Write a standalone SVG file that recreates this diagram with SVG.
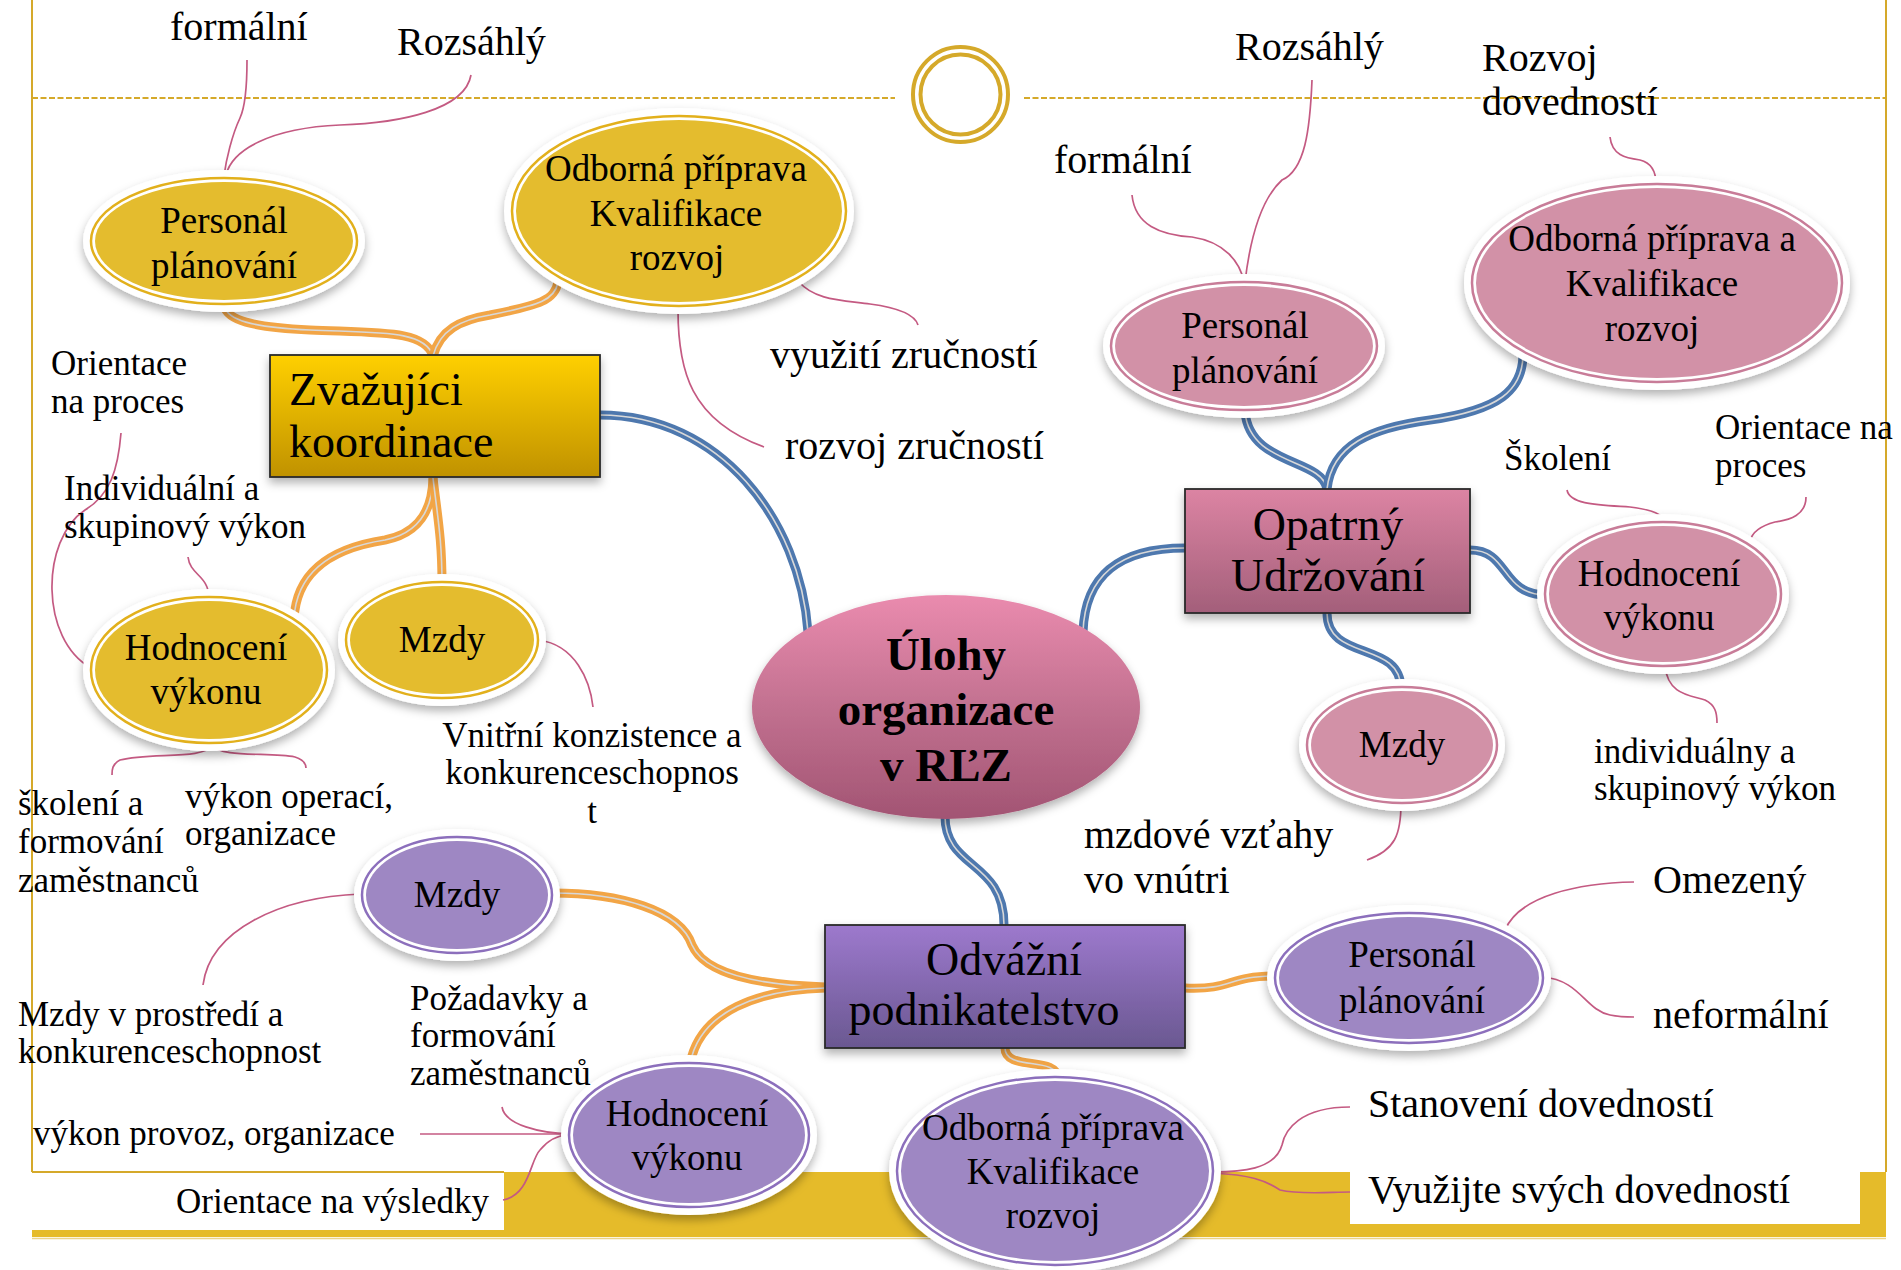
<svg xmlns="http://www.w3.org/2000/svg" width="1901" height="1270" viewBox="0 0 1901 1270">
<defs>
<style>
text{font-family:"Liberation Serif","Times New Roman",serif;fill:#000}
.lb{font-size:40px}
.ls{font-size:35px}
.nt{font-size:37px;text-anchor:middle}
.bt{font-size:46px}
.ct{font-size:47px;font-weight:bold;text-anchor:middle}
.mid{text-anchor:middle}
.thin{fill:none;stroke:#C45A82;stroke-width:1.7}
.blue{fill:none;stroke:#4E78AE;stroke-width:9}
.orange{fill:none;stroke:#F2A546;stroke-width:9}
.inner{fill:none;stroke:#D8D8D8;stroke-width:1.6}
.halo{fill:#fff;filter:url(#sh)}
.box{stroke:#2a2a2a;stroke-width:1.8;filter:url(#sh)}
.yr{fill:none;stroke:#E2B01C;stroke-width:2.5}
.yf{fill:#E4BC2E}
.pr{fill:none;stroke:#C87C98;stroke-width:2.5}
.pf{fill:#D291A7}
.vr{fill:none;stroke:#8C6FBC;stroke-width:2.5}
.vf{fill:#9E87C3}
.gold{fill:none;stroke:#D5A92A}
</style>
<filter id="sh" x="-20%" y="-20%" width="140%" height="150%">
<feDropShadow dx="0" dy="5" stdDeviation="5" flood-color="#000" flood-opacity="0.3"/>
</filter>
<linearGradient id="gY" x1="0" y1="0" x2="0" y2="1"><stop offset="0" stop-color="#FFD000"/><stop offset="1" stop-color="#C09200"/></linearGradient>
<linearGradient id="gP" x1="0" y1="0" x2="0" y2="1"><stop offset="0" stop-color="#DC84A3"/><stop offset="1" stop-color="#A35F7A"/></linearGradient>
<linearGradient id="gV" x1="0" y1="0" x2="0" y2="1"><stop offset="0" stop-color="#9D79CD"/><stop offset="1" stop-color="#6A5891"/></linearGradient>
<linearGradient id="gC" x1="0" y1="0" x2="0" y2="1"><stop offset="0" stop-color="#EA8BAE"/><stop offset="0.5" stop-color="#C27190"/><stop offset="1" stop-color="#A25473"/></linearGradient>
</defs>
<rect width="1901" height="1270" fill="#fff"/>

<g id="frame">
<rect x="32" y="1172" width="1854" height="65" fill="#E5BB2A"/>
<line x1="32" y1="1238.5" x2="1886" y2="1238.5" stroke="#EBD48A" stroke-width="1.5"/>
<rect x="32" y="1172" width="472" height="58" fill="#fff"/>
<line x1="32" y1="0" x2="32" y2="1172" class="gold" stroke-width="2"/>
<line x1="1886" y1="0" x2="1886" y2="1172" class="gold" stroke-width="2"/>
<line x1="32" y1="1172" x2="504" y2="1172" class="gold" stroke-width="2"/>
<rect x="1350" y="1172" width="510" height="52" fill="#fff"/>
<line x1="32" y1="98" x2="895" y2="98" class="gold" stroke-width="2.2" stroke-dasharray="6,2.5"/>
<line x1="1024" y1="98" x2="1886" y2="98" class="gold" stroke-width="2.2" stroke-dasharray="6,2.5"/>
<circle cx="960.5" cy="94.5" r="47.5" class="gold" stroke-width="4"/>
<circle cx="960.5" cy="94.5" r="40" class="gold" stroke-width="4"/>
</g>

<g id="connectors">
<g id="main-links">
<path class="blue" d="M600,415 C720,415 800,520 808,632"/>
<path class="inner" d="M600,415 C720,415 800,520 808,632"/>
<path class="blue" d="M1083,632 C1085,575 1120,548 1185,548"/>
<path class="inner" d="M1083,632 C1085,575 1120,548 1185,548"/>
<path class="blue" d="M945,816 C945,870 1004,860 1004,925"/>
<path class="inner" d="M945,816 C945,870 1004,860 1004,925"/>
<path class="blue" d="M1327,489 C1322,458 1250,466 1245,412"/>
<path class="inner" d="M1327,489 C1322,458 1250,466 1245,412"/>
<path class="blue" d="M1327,489 C1332,445 1370,428 1430,420 C1500,410 1522,390 1523,356"/>
<path class="inner" d="M1327,489 C1332,445 1370,428 1430,420 C1500,410 1522,390 1523,356"/>
<path class="blue" d="M1470,550 C1510,550 1500,595 1547,595"/>
<path class="inner" d="M1470,550 C1510,550 1500,595 1547,595"/>
<path class="blue" d="M1327,613 C1327,662 1401,640 1401,689"/>
<path class="inner" d="M1327,613 C1327,662 1401,640 1401,689"/>
<path class="orange" d="M433,356 C425,330 380,333 310,330 C250,327 228,320 224,306"/>
<path class="inner" d="M433,356 C425,330 380,333 310,330 C250,327 228,320 224,306"/>
<path class="orange" d="M433,356 C440,330 460,320 490,315 C540,305 555,300 558,282"/>
<path class="inner" d="M433,356 C440,330 460,320 490,315 C540,305 555,300 558,282"/>
<path class="orange" d="M433,478 C432,520 410,535 385,540 C320,550 296,580 294,619"/>
<path class="inner" d="M433,478 C432,520 410,535 385,540 C320,550 296,580 294,619"/>
<path class="orange" d="M433,478 C438,520 442,540 442,584"/>
<path class="inner" d="M433,478 C438,520 442,540 442,584"/>
<path class="orange" d="M825,987 C760,985 705,975 692,945 C680,910 620,893 552,893"/>
<path class="inner" d="M825,987 C760,985 705,975 692,945 C680,910 620,893 552,893"/>
<path class="orange" d="M825,988 C760,990 700,1010 690,1064"/>
<path class="inner" d="M825,988 C760,990 700,1010 690,1064"/>
<path class="orange" d="M1185,988 C1235,990 1225,976 1277,976"/>
<path class="inner" d="M1185,988 C1235,990 1225,976 1277,976"/>
<path class="orange" d="M1005,1048 C1005,1072 1058,1055 1058,1079"/>
<path class="inner" d="M1005,1048 C1005,1072 1058,1055 1058,1079"/>
</g>
<g id="label-links">
<path class="thin" d="M247,60 C247,85 246,105 240,118 C232,135 226,160 224,176"/>
<path class="thin" d="M471,75 C465,110 400,123 340,125 C270,128 232,150 226,175"/>
<path class="thin" d="M799,282 C815,300 840,300 870,304 C900,308 915,315 918,325"/>
<path class="thin" d="M678,310 C678,370 690,420 764,447"/>
<path class="thin" d="M121,433 C118,470 110,495 85,510 C40,540 40,640 91,668"/>
<path class="thin" d="M188,557 C190,575 208,575 209,597"/>
<path class="thin" d="M212,745 C205,760 150,752 120,760 C112,764 112,770 112,775"/>
<path class="thin" d="M212,745 C220,758 270,752 295,757 C304,760 306,765 306,768"/>
<path class="thin" d="M539,640 C575,645 590,680 593,707"/>
<path class="thin" d="M1312,80 C1310,130 1305,170 1282,180 C1260,200 1250,240 1245,282"/>
<path class="thin" d="M1132,195 C1135,225 1160,235 1192,237 C1225,242 1240,262 1244,282"/>
<path class="thin" d="M1610,137 C1612,155 1625,158 1640,160 C1652,163 1656,172 1656,184"/>
<path class="thin" d="M1567,490 C1570,505 1600,505 1630,507 C1655,510 1664,515 1665,522"/>
<path class="thin" d="M1806,497 C1806,515 1790,520 1775,522 C1760,526 1752,533 1750,541"/>
<path class="thin" d="M1665,666 C1668,695 1690,695 1705,700 C1715,705 1717,712 1717,723"/>
<path class="thin" d="M1401,803 C1401,835 1395,850 1367,860"/>
<path class="thin" d="M1634,882 C1580,883 1520,895 1505,930"/>
<path class="thin" d="M1543,977 C1580,980 1585,1010 1610,1015 C1620,1017 1630,1017 1634,1017"/>
<path class="thin" d="M1350,1107 C1300,1107 1285,1130 1282,1145 C1275,1170 1240,1172 1213,1172"/>
<path class="thin" d="M1213,1173 C1250,1175 1265,1180 1280,1190 C1300,1195 1330,1192 1350,1192"/>
<path class="thin" d="M361,894 C280,897 210,930 203,985"/>
<path class="thin" d="M502,1107 C505,1125 540,1133 570,1134"/>
<path class="thin" d="M420,1134 L570,1134"/>
<path class="thin" d="M503,1200 C530,1195 530,1160 540,1150 C548,1140 560,1135 570,1134"/>
</g>
</g>

<g id="center">
<ellipse cx="946" cy="707" rx="194" ry="112" fill="url(#gC)" filter="url(#sh)"/>
<text class="ct" x="946" y="670">Úlohy</text>
<text class="ct" x="946" y="725">organizace</text>
<text class="ct" x="946" y="781">v RĽZ</text>
</g>

<g id="box-zvazujici">
<rect class="box" x="270" y="355" width="330" height="122" fill="url(#gY)"/>
<text class="bt" x="289" y="405">Zvažujíci</text>
<text class="bt" x="289" y="457">koordinace</text>
</g>
<g id="box-opatrny">
<rect class="box" x="1185" y="489" width="285" height="124" fill="url(#gP)"/>
<text class="bt mid" x="1328" y="540">Opatrný</text>
<text class="bt mid" x="1328" y="591">Udržování</text>
</g>
<g id="box-odvazni">
<rect class="box" x="825" y="925" width="360" height="123" fill="url(#gV)"/>
<text class="bt mid" x="1004" y="975">Odvážní</text>
<text class="bt mid" x="984" y="1025">podnikatelstvo</text>
</g>

<g id="y-personal">
<ellipse class="halo" cx="224" cy="241" rx="141" ry="71"/>
<ellipse class="yr" cx="224" cy="241" rx="133" ry="63"/>
<ellipse class="yf" cx="224" cy="241" rx="129" ry="59"/>
<text class="nt" x="224" y="233">Personál</text>
<text class="nt" x="224" y="278">plánování</text>
</g>
<g id="y-odborna">
<ellipse class="halo" cx="679" cy="211" rx="175" ry="103"/>
<ellipse class="yr" cx="679" cy="211" rx="167" ry="95"/>
<ellipse class="yf" cx="679" cy="211" rx="163" ry="91"/>
<text class="nt" x="676" y="181">Odborná příprava</text>
<text class="nt" x="676" y="226">Kvalifikace</text>
<text class="nt" x="677" y="270">rozvoj</text>
</g>
<g id="y-hodnoceni">
<ellipse class="halo" cx="209" cy="670" rx="126" ry="81"/>
<ellipse class="yr" cx="209" cy="670" rx="118" ry="73"/>
<ellipse class="yf" cx="209" cy="670" rx="114" ry="69"/>
<text class="nt" x="206" y="660">Hodnocení</text>
<text class="nt" x="206" y="704">výkonu</text>
</g>
<g id="y-mzdy">
<ellipse class="halo" cx="442" cy="640" rx="104" ry="66"/>
<ellipse class="yr" cx="442" cy="640" rx="96" ry="58"/>
<ellipse class="yf" cx="442" cy="640" rx="92" ry="54"/>
<text class="nt" x="442" y="652">Mzdy</text>
</g>

<g id="p-personal">
<ellipse class="halo" cx="1244" cy="346" rx="141" ry="72"/>
<ellipse class="pr" cx="1244" cy="346" rx="133" ry="64"/>
<ellipse class="pf" cx="1244" cy="346" rx="129" ry="60"/>
<text class="nt" x="1245" y="338">Personál</text>
<text class="nt" x="1245" y="383">plánování</text>
</g>
<g id="p-odborna">
<ellipse class="halo" cx="1657" cy="283" rx="193" ry="107"/>
<ellipse class="pr" cx="1657" cy="283" rx="185" ry="99"/>
<ellipse class="pf" cx="1657" cy="283" rx="181" ry="95"/>
<text class="nt" x="1652" y="251">Odborná příprava a</text>
<text class="nt" x="1652" y="296">Kvalifikace</text>
<text class="nt" x="1652" y="341">rozvoj</text>
</g>
<g id="p-hodnoceni">
<ellipse class="halo" cx="1663" cy="594" rx="126" ry="80"/>
<ellipse class="pr" cx="1663" cy="594" rx="118" ry="72"/>
<ellipse class="pf" cx="1663" cy="594" rx="114" ry="68"/>
<text class="nt" x="1659" y="586">Hodnocení</text>
<text class="nt" x="1659" y="630">výkonu</text>
</g>
<g id="p-mzdy">
<ellipse class="halo" cx="1402" cy="745" rx="103" ry="66"/>
<ellipse class="pr" cx="1402" cy="745" rx="95" ry="58"/>
<ellipse class="pf" cx="1402" cy="745" rx="91" ry="54"/>
<text class="nt" x="1402" y="757">Mzdy</text>
</g>

<g id="v-mzdy">
<ellipse class="halo" cx="457" cy="895" rx="103" ry="66"/>
<ellipse class="vr" cx="457" cy="895" rx="95" ry="58"/>
<ellipse class="vf" cx="457" cy="895" rx="91" ry="54"/>
<text class="nt" x="457" y="907">Mzdy</text>
</g>
<g id="v-hodnoceni">
<ellipse class="halo" cx="689" cy="1135" rx="128" ry="80"/>
<ellipse class="vr" cx="689" cy="1135" rx="120" ry="72"/>
<ellipse class="vf" cx="689" cy="1135" rx="116" ry="68"/>
<text class="nt" x="687" y="1126">Hodnocení</text>
<text class="nt" x="687" y="1170">výkonu</text>
</g>
<g id="v-personal">
<ellipse class="halo" cx="1409" cy="978" rx="142" ry="73"/>
<ellipse class="vr" cx="1409" cy="978" rx="134" ry="65"/>
<ellipse class="vf" cx="1409" cy="978" rx="130" ry="61"/>
<text class="nt" x="1412" y="967">Personál</text>
<text class="nt" x="1412" y="1013">plánování</text>
</g>
<g id="v-odborna">
<ellipse class="halo" cx="1055" cy="1171" rx="166" ry="102"/>
<ellipse class="vr" cx="1055" cy="1171" rx="158" ry="94"/>
<ellipse class="vf" cx="1055" cy="1171" rx="154" ry="90"/>
<text class="nt" x="1053" y="1140">Odborná příprava</text>
<text class="nt" x="1053" y="1184">Kvalifikace</text>
<text class="nt" x="1053" y="1228">rozvoj</text>
</g>

<g id="labels">
<text class="lb" x="170" y="40">formální</text>
<text class="lb" x="397" y="55">Rozsáhlý</text>
<text class="lb" x="770" y="368">využití zručností</text>
<text class="lb" x="785" y="459">rozvoj zručností</text>
<text class="lb" x="1235" y="60">Rozsáhlý</text>
<text class="lb" x="1054" y="173">formální</text>
<text class="lb" x="1482" y="71">Rozvoj</text>
<text class="lb" x="1482" y="115">dovedností</text>
<text class="lb" x="1084" y="848">mzdové vzťahy</text>
<text class="lb" x="1084" y="893">vo vnútri</text>
<text class="lb" x="1653" y="893">Omezený</text>
<text class="lb" x="1653" y="1028">neformální</text>
<text class="lb" x="1368" y="1117">Stanovení dovedností</text>
<text class="lb" x="1368" y="1203">Využijte svých dovedností</text>
<text class="ls" x="51" y="375">Orientace</text>
<text class="ls" x="51" y="413">na proces</text>
<text class="ls" x="64" y="500">Individuální a</text>
<text class="ls" x="64" y="538">skupinový výkon</text>
<text class="ls" x="18" y="815">školení a</text>
<text class="ls" x="18" y="853">formování</text>
<text class="ls" x="18" y="892">zaměstnanců</text>
<text class="ls" x="185" y="808">výkon operací,</text>
<text class="ls" x="185" y="845">organizace</text>
<text class="ls mid" x="592" y="747">Vnitřní konzistence a</text>
<text class="ls mid" x="592" y="784">konkurenceschopnos</text>
<text class="ls mid" x="592" y="823">t</text>
<text class="ls" x="1504" y="470">Školení</text>
<text class="ls" x="1715" y="439">Orientace na</text>
<text class="ls" x="1715" y="477">proces</text>
<text class="ls" x="1594" y="763">individuálny a</text>
<text class="ls" x="1594" y="800">skupinový výkon</text>
<text class="ls" x="18" y="1026">Mzdy v prostředí a</text>
<text class="ls" x="18" y="1063">konkurenceschopnost</text>
<text class="ls" x="410" y="1010">Požadavky a</text>
<text class="ls" x="410" y="1047">formování</text>
<text class="ls" x="410" y="1085">zaměstnanců</text>
<text class="ls" x="33" y="1145">výkon provoz, organizace</text>
<text class="ls" x="176" y="1213">Orientace na výsledky</text>
</g>
</svg>
